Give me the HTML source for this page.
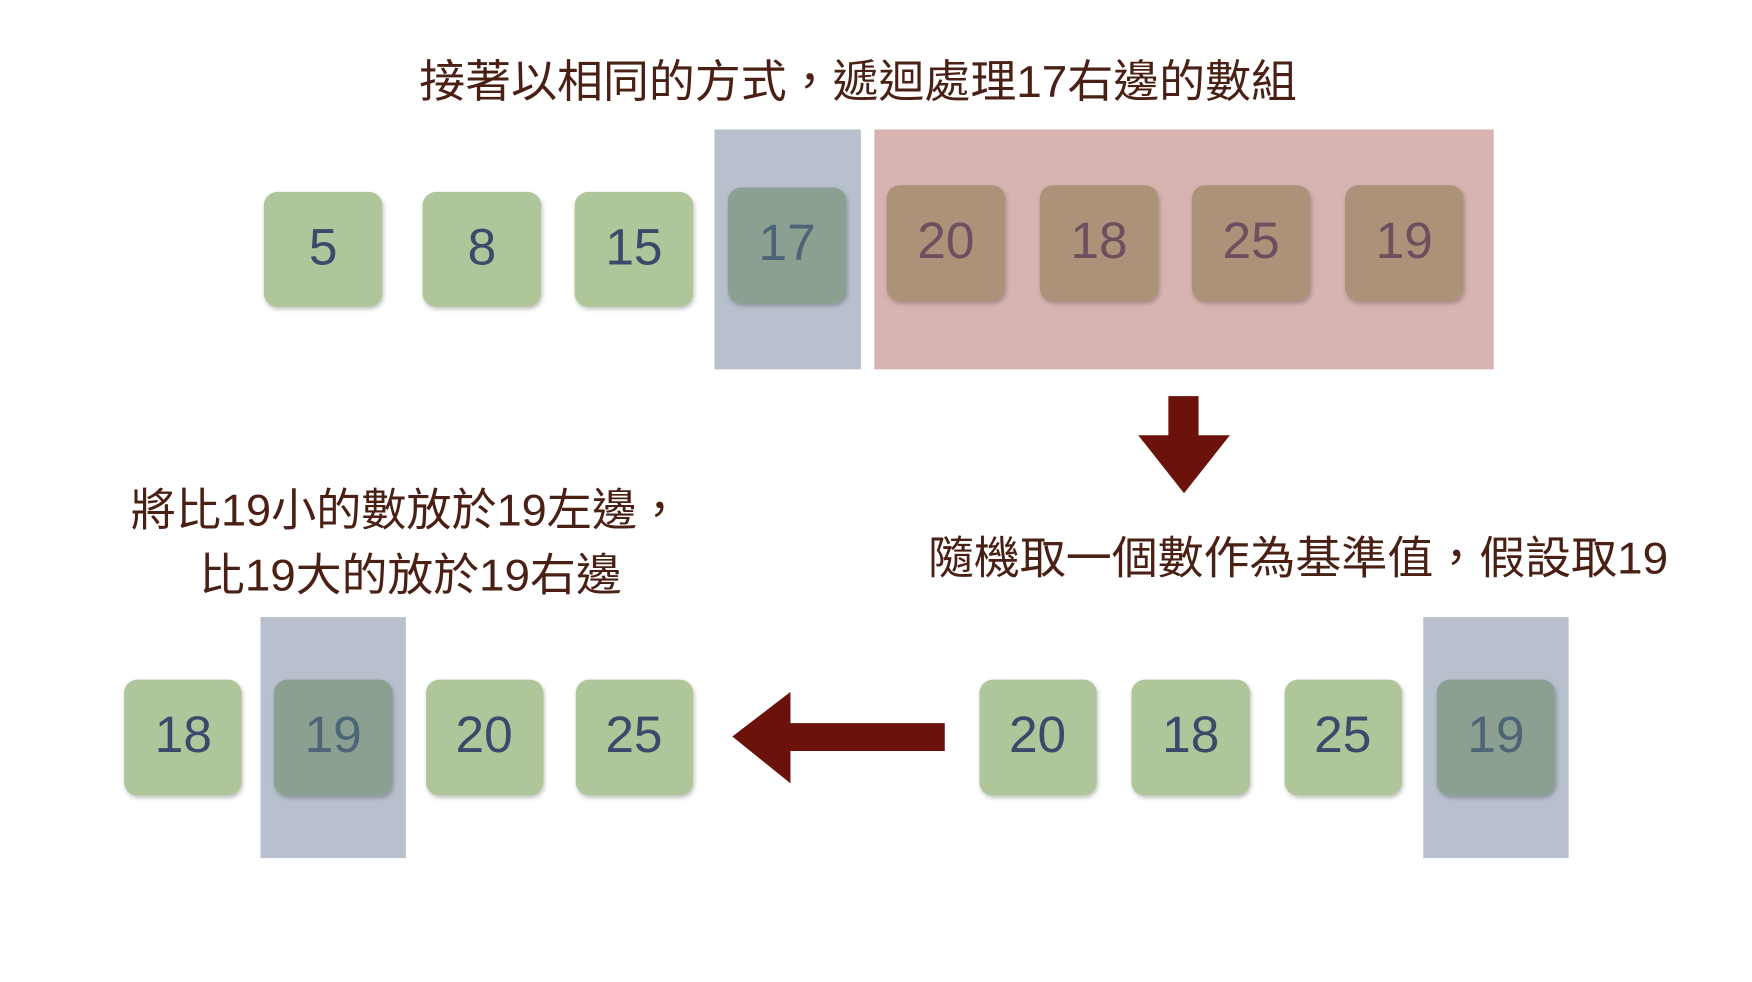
<!DOCTYPE html>
<html><head><meta charset="utf-8"><style>
html,body{margin:0;padding:0;background:#fff;width:1752px;height:982px;overflow:hidden}
svg{display:block}
text{font-family:"Liberation Sans","Noto Sans CJK TC",sans-serif}
.t{font-family:"Liberation Sans","Noto Sans CJK TC",sans-serif;font-size:40px;fill:#4a2015}
.n{font-size:46px;text-anchor:middle}
</style></head><body>
<svg width="1752" height="982" viewBox="0 0 1567 880" preserveAspectRatio="none">
<defs><filter id="s" x="-10%" y="-10%" width="130%" height="130%"><feDropShadow dx="1" dy="2" stdDeviation="2" flood-opacity="0.25"/></filter></defs>
<text class="t" x="375" y="87" textLength="785" lengthAdjust="spacingAndGlyphs">接著以相同的方式，遞迴處理17右邊的數組</text>
<rect x="639" y="116" width="131" height="215" fill="#b8c0ce"/>
<rect x="782" y="116" width="554" height="215" fill="#d7b3b1"/>
<g filter="url(#s)">
<rect x="236" y="172" width="106" height="103" rx="12" fill="#afc59a"/>
<rect x="378" y="172" width="106" height="103" rx="12" fill="#afc59a"/>
<rect x="514" y="172" width="106" height="103" rx="12" fill="#afc59a"/>
<rect x="651" y="168" width="106" height="104" rx="12" fill="#8ba090"/>
<rect x="793" y="166" width="106" height="104" rx="12" fill="#ab9279"/>
<rect x="930" y="166" width="106" height="104" rx="12" fill="#ab9279"/>
<rect x="1066" y="166" width="106" height="104" rx="12" fill="#ab9279"/>
<rect x="1203" y="166" width="106" height="104" rx="12" fill="#ab9279"/>
</g>
<g fill="#3b4a6b">
<text class="n" x="289" y="237">5</text>
<text class="n" x="431" y="237">8</text>
<text class="n" x="567" y="237">15</text>
<text class="n" x="704" y="233" fill="#4e6478">17</text>
<text class="n" x="846" y="231" fill="#6e4f5f">20</text>
<text class="n" x="983" y="231" fill="#6e4f5f">18</text>
<text class="n" x="1119" y="231" fill="#6e4f5f">25</text>
<text class="n" x="1256" y="231" fill="#6e4f5f">19</text>
</g>
<polygon points="1045,355 1072,355 1072,390 1100,390 1059,442 1018,390 1045,390" fill="#6b130b"/>
<text class="t" x="830" y="514" textLength="662" lengthAdjust="spacingAndGlyphs">隨機取一個數作為基準值，假設取19</text>
<text class="t" x="117" y="471" textLength="493" lengthAdjust="spacingAndGlyphs">將比19小的數放於19左邊，</text>
<text class="t" x="178" y="529" textLength="378" lengthAdjust="spacingAndGlyphs">比19大的放於19右邊</text>
<rect x="233" y="553" width="130" height="216" fill="#b8c0ce"/>
<rect x="1273" y="553" width="130" height="216" fill="#b8c0ce"/>
<g filter="url(#s)">
<rect x="111" y="609" width="105" height="104" rx="12" fill="#afc59a"/>
<rect x="245" y="609" width="106" height="104" rx="12" fill="#8ba090"/>
<rect x="381" y="609" width="105" height="104" rx="12" fill="#afc59a"/>
<rect x="515" y="609" width="105" height="104" rx="12" fill="#afc59a"/>
<rect x="876" y="609" width="105" height="104" rx="12" fill="#afc59a"/>
<rect x="1012" y="609" width="106" height="104" rx="12" fill="#afc59a"/>
<rect x="1149" y="609" width="105" height="104" rx="12" fill="#afc59a"/>
<rect x="1285" y="609" width="106" height="104" rx="12" fill="#8ba090"/>
</g>
<g fill="#3b4a6b">
<text class="n" x="164" y="674">18</text>
<text class="n" x="298" y="674" fill="#4e6478">19</text>
<text class="n" x="433" y="674">20</text>
<text class="n" x="567" y="674">25</text>
<text class="n" x="928" y="674">20</text>
<text class="n" x="1065" y="674">18</text>
<text class="n" x="1201" y="674">25</text>
<text class="n" x="1338" y="674" fill="#4e6478">19</text>
</g>
<polygon points="845,648 845,673 707,673 707,702 655,660 707,620 707,648" fill="#6b130b"/>
</svg>
</body></html>
